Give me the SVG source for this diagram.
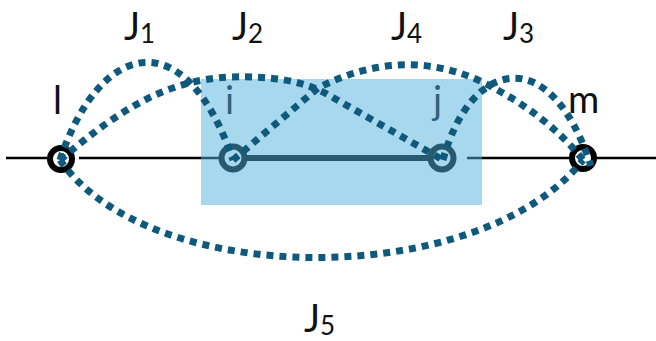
<svg xmlns="http://www.w3.org/2000/svg" width="656" height="341" viewBox="0 0 656 341">
<style>
.thin{stroke:#000;stroke-width:2.5;fill:none}
.node{fill:none;stroke:#000;stroke-width:6}
.jc{fill:none;stroke:#0f5a7c;stroke-width:7;stroke-dasharray:7 6}
.lab{font-family:Lato,"Open Sans","Liberation Sans",sans-serif;font-size:38px;fill:#111}
.sub{font-size:26px}
</style>
<rect width="656" height="341" fill="#fff"/>
<g id="base">
<line class="thin" x1="6" y1="158" x2="47" y2="158"/>
<line class="thin" x1="79" y1="158" x2="221" y2="158"/>
<line class="thin" x1="467" y1="158" x2="569" y2="158"/>
<line class="thin" x1="597" y1="158" x2="656" y2="158"/>
<line x1="246" y1="158" x2="430" y2="158" stroke="#000" stroke-width="6"/>
</g>
<g id="node-l"><circle class="node" cx="61" cy="159" r="11"/><text class="lab" x="53" y="114">l</text></g>
<g id="node-i"><circle class="node" cx="233" cy="158" r="11.5"/><text class="lab" x="225" y="114">i</text></g>
<g id="node-j"><circle class="node" cx="442" cy="158" r="11.5"/><text class="lab" x="433" y="114">j</text></g>
<g id="node-m"><circle class="node" cx="583" cy="158" r="11"/><text class="lab" x="568" y="113">m</text></g>
<rect id="region" x="201" y="79" width="281" height="126" fill="#52b2de" fill-opacity="0.5"/>
<g id="connectors">
<path id="J1" class="jc" d="M60,160 C100,40 185,20 233,160"/>
<path id="J2" class="jc" d="M60,160 C110,118 160,80 230,77 C270,76 300,80 325,93 L443,160"/>
<path id="J4" class="jc" d="M233,160 L318,88 Q400,46 478,80 Q545,112 583,160"/>
<path id="J3" class="jc" d="M443,160 C470,60 550,40 591,166"/>
<path id="J5" class="jc" d="M60,160 C150,290 480,290 583,160"/>
</g>
<g id="labels">
<text class="lab" x="124" y="40">J<tspan class="sub" dy="3">1</tspan></text>
<text class="lab" x="232" y="40">J<tspan class="sub" dy="3">2</tspan></text>
<text class="lab" x="391" y="40">J<tspan class="sub" dy="3">4</tspan></text>
<text class="lab" x="503" y="40">J<tspan class="sub" dy="3">3</tspan></text>
<text class="lab" x="304" y="332">J<tspan class="sub" dy="3">5</tspan></text>
</g>
</svg>
